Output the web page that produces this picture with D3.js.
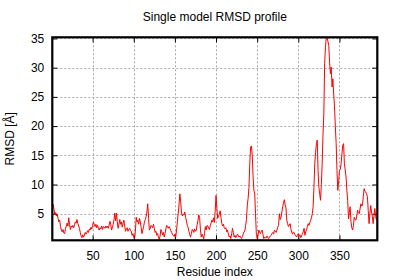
<!DOCTYPE html>
<html>
<head>
<meta charset="utf-8">
<script src="https://cdn.jsdelivr.net/npm/d3@7"></script>
<style>
  html, body { margin: 0; padding: 0; background: #fff; }
  svg { display: block; }
  text { font-family: "Liberation Sans", Arial, sans-serif; font-size: 12px; fill: #000; }
</style>
</head>
<body>
<svg id="chart" width="400" height="280"></svg>
<script>
// ---- data ----
const title = "Single model RMSD profile";
const xLabel = "Residue index";
const yLabel = "RMSD [Å]";
const xTicks = [50, 100, 150, 200, 250, 300, 350];
const yTicks = [5, 10, 15, 20, 25, 30, 35];
const firstResidue = 1;
const rmsd = [
  5.6, 6.6, 5.8, 4.9, 5.2, 4.6, 4.9, 4.2, 3.6, 3.9,
  2.8, 2.2, 1.9, 2.3, 1.7, 1.6, 2.4, 2.9, 3.4, 2.9,
  4.3, 3.1, 2.3, 2.9, 2.7, 3.0, 2.6, 3.1, 3.6, 3.4,
  4.0, 3.3, 2.9, 2.5, 1.8, 1.2, 0.9, 1.4, 1.0, 1.3,
  1.8, 1.5, 1.7, 2.1, 1.8, 2.4, 2.2, 2.7, 2.4, 3.0,
  3.6, 3.1, 2.8, 3.2, 2.6, 3.0, 2.5, 2.2, 2.6, 2.4,
  2.9, 2.3, 2.8, 2.7, 2.5, 2.9, 2.6, 2.9, 2.5, 3.0,
  3.7, 3.2, 2.2, 2.6, 3.2, 4.0, 5.1, 3.8, 5.1, 3.6,
  2.5, 3.2, 4.0, 3.2, 3.6, 2.7, 3.4, 3.9, 2.9, 2.0,
  2.3, 2.6, 2.0, 2.3, 2.5, 2.1, 2.0, 1.3, 1.6, 1.0,
  0.75, 2.0, 4.4, 3.6, 3.9, 3.2, 4.2, 3.6, 2.6, 1.6,
  2.2, 2.8, 3.6, 4.0, 4.5, 5.3, 6.7, 4.2, 2.2, 2.5,
  3.0, 2.8, 2.6, 3.2, 2.5, 1.8, 2.0, 1.3, 1.6, 1.0,
  0.6, 1.2, 2.3, 1.9, 1.4, 1.8, 1.0, 1.6, 2.4, 3.0,
  2.8, 2.5, 2.8, 2.5, 2.1, 1.8, 1.5, 1.3, 1.1, 1.5,
  1.0, 2.2, 3.6, 5.0, 6.5, 8.4, 7.1, 5.3, 4.6, 4.9,
  4.8, 5.3, 4.4, 3.8, 3.0, 2.7, 2.0, 1.4, 1.0, 1.6,
  2.3, 2.2, 1.8, 2.4, 2.0, 2.2, 3.1, 3.8, 4.8, 4.4,
  2.4, 1.0, 1.5, 1.2, 0.7, 1.6, 2.8, 2.2, 3.0, 2.9,
  2.5, 2.3, 3.0, 3.4, 3.9, 3.6, 4.3, 3.5, 5.6, 8.15,
  6.0, 4.2, 4.6, 4.9, 5.5, 4.4, 3.3, 2.9, 3.2, 2.6,
  2.4, 2.6, 1.9, 2.2, 1.5, 1.0, 1.2, 0.75, 1.6, 2.5,
  1.8, 1.0, 1.3, 0.9, 1.2, 1.5, 1.3, 1.0, 1.2, 0.9,
  0.75, 1.1, 1.5, 1.9, 2.0, 3.0, 4.0, 6.5, 7.6, 9.5,
  13.5, 16.4, 16.6, 15.0, 11.5, 9.0, 8.5, 5.0, 1.5, 0.75,
  1.3, 2.2, 1.8, 1.6, 2.0, 2.2, 1.5, 0.75, 1.0, 0.9,
  0.85, 1.2, 0.9, 0.75, 1.0, 1.2, 1.3, 1.6, 1.8, 1.5,
  2.2, 2.0, 1.8, 2.2, 2.7, 3.0, 5.0, 4.0, 4.4, 5.3,
  6.2, 6.8, 7.4, 6.5, 6.0, 3.9, 3.3, 2.8, 3.0, 3.3,
  2.4, 1.8, 1.5, 1.9, 1.7, 1.4, 1.2, 1.0, 1.4, 1.6,
  1.2, 1.4, 0.9, 1.2, 1.6, 1.9, 2.5, 1.3, 1.9, 2.2,
  2.8, 3.3, 3.0, 3.5, 3.9, 4.3, 5.0, 6.2, 9.5, 13.6,
  15.5, 17.0, 17.6, 12.4, 9.5, 8.4, 7.3, 10.0, 13.6, 18.5,
  22.1, 30.7, 33.5, 35.2, 35.1, 34.5, 33.8, 31.0, 29.0, 30.1,
  26.7, 28.1, 25.5, 23.3, 20.0, 17.0, 12.4, 9.0, 10.5, 12.4,
  12.6, 13.6, 15.2, 16.7, 17.0, 13.6, 12.5, 11.3, 9.0, 7.3,
  4.1, 5.2, 6.2, 3.6, 2.6, 2.2, 3.0, 4.4, 4.0, 3.9,
  4.6, 5.6, 5.2, 5.0, 5.8, 6.7, 6.3, 6.5, 8.0, 9.3,
  8.8, 8.7, 8.4, 7.9, 5.5, 3.3, 5.0, 6.4, 5.3, 4.5,
  3.3, 4.8, 5.9, 4.5, 3.9
];
const xDomain = [1, 396];
const yDomain = [0.45, 35.2];

// ---- layout ----
const plot = { left: 52.3, right: 377.3, top: 37.3, bottom: 240.3 };
const svg = d3.select("#chart");

const x = d3.scaleLinear().domain(xDomain).range([plot.left, plot.right]);
const y = d3.scaleLinear().domain(yDomain).range([plot.bottom, plot.top]);

const points = rmsd.map((v, i) => ({ r: firstResidue + i, v }));

// grid
const grid = svg.append("g").attr("stroke", "#a8a8a8").attr("stroke-width", 1).attr("stroke-dasharray", "2,2");
grid.selectAll("line.gx").data(xTicks).join("line")
  .attr("x1", d => Math.round(x(d)) + 0.5).attr("x2", d => Math.round(x(d)) + 0.5)
  .attr("y1", plot.top).attr("y2", plot.bottom);
grid.selectAll("line.gy").data(yTicks).join("line")
  .attr("y1", d => Math.round(y(d)) + 0.5).attr("y2", d => Math.round(y(d)) + 0.5)
  .attr("x1", plot.left).attr("x2", plot.right);

// axes (ticks inward on all sides)
const tickLen = 5;
const bottomAxis = d3.axisBottom(x).tickValues(xTicks).tickSizeInner(-tickLen).tickSizeOuter(0).tickPadding(tickLen + 6);
const topAxis = d3.axisTop(x).tickValues(xTicks).tickSizeInner(-tickLen).tickSizeOuter(0).tickFormat("");
const leftAxis = d3.axisLeft(y).tickValues(yTicks).tickSizeInner(-tickLen).tickSizeOuter(0).tickPadding(tickLen + 3);
const rightAxis = d3.axisRight(y).tickValues(yTicks).tickSizeInner(-tickLen).tickSizeOuter(0).tickFormat("");

function styleAxis(g) {
  g.select(".domain").remove();
  g.selectAll(".tick line").attr("stroke", "#000").attr("stroke-width", 1);
  g.selectAll(".tick text").attr("font-family", "Liberation Sans, Arial, sans-serif").attr("font-size", 12).attr("fill", "#000");
}
svg.append("g").attr("transform", `translate(0,${plot.bottom})`).call(bottomAxis).call(styleAxis);
svg.append("g").attr("transform", `translate(0,${plot.top})`).call(topAxis).call(styleAxis);
svg.append("g").attr("transform", `translate(${plot.left},0)`).call(leftAxis).call(styleAxis);
svg.append("g").attr("transform", `translate(${plot.right},0)`).call(rightAxis).call(styleAxis);

// data line
const line = d3.line().x(d => x(d.r)).y(d => y(d.v));
svg.append("path").datum(points)
  .attr("fill", "none").attr("stroke", "#ff0000").attr("stroke-width", 1)
  .attr("stroke-linejoin", "round")
  .attr("d", line);

// border
svg.append("rect")
  .attr("x", plot.left).attr("y", plot.top)
  .attr("width", plot.right - plot.left).attr("height", plot.bottom - plot.top)
  .attr("fill", "none").attr("stroke", "#000").attr("stroke-width", 2.2);

// texts
svg.append("text").attr("x", (plot.left + plot.right) / 2).attr("y", 21)
  .attr("text-anchor", "middle").text(title);
svg.append("text").attr("x", (plot.left + plot.right) / 2).attr("y", 276)
  .attr("text-anchor", "middle").text(xLabel);
svg.append("text").attr("transform", `translate(14,${(plot.top + plot.bottom) / 2}) rotate(-90)`)
  .attr("text-anchor", "middle").text(yLabel);
</script>
</body>
</html>
